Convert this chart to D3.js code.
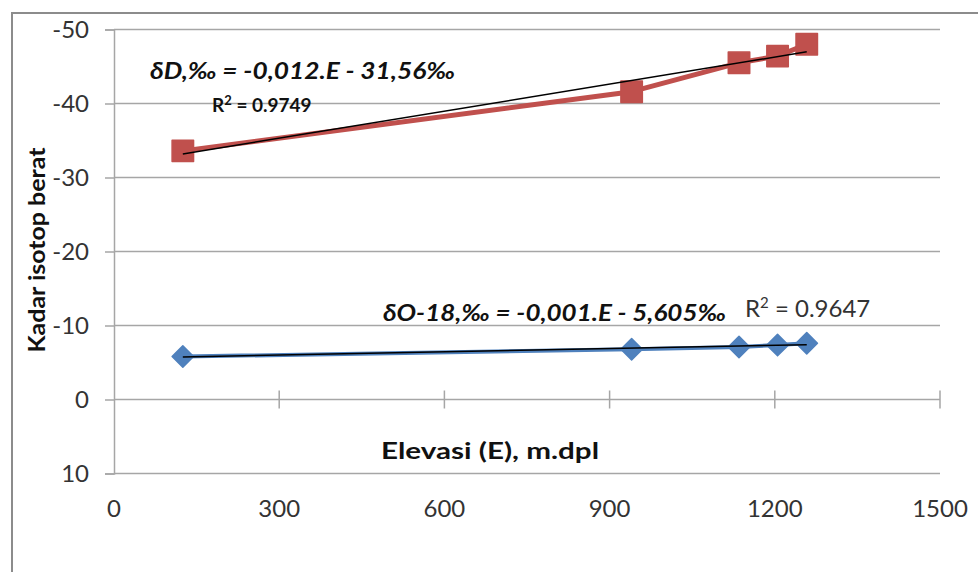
<!DOCTYPE html>
<html>
<head>
<meta charset="utf-8">
<script src="https://cdn.jsdelivr.net/npm/d3@7"></script>
<style>
  body { margin: 0; background: #fff; }
  svg { display: block; font-family: Lato, "Open Sans", sans-serif; }
</style>
</head>
<body>
<script>
// elevation of each sampling point (m.dpl)
const elevation = [125, 940, 1135, 1205, 1258];
// heavy isotope contents (per mil)
const deltaD = [-33.6, -41.6, -45.5, -46.4, -48.0];
const delta18O = [-5.8, -6.8, -7.1, -7.35, -7.6];

const xTicks = [0, 300, 600, 900, 1200, 1500];
const yTicks = [-50, -40, -30, -20, -10, 0, 10];

const width = 978;
const height = 572;

const svg = d3.select('body')
  .append('svg')
    .attr('width', width)
    .attr('height', height);

// outer chart frame (cropped on right and bottom)
svg.append('path')
  .attr('d', `M12,${height}V13H${width}`)
  .attr('fill', 'none')
  .attr('stroke', '#8c8c8c')
  .attr('stroke-width', 2);

const x = d3.scaleLinear().domain([0, 1500]).range([114, 940]);
const y = d3.scaleLinear().domain([-50, 10]).range([29.5, 473.5]);

// horizontal gridlines
svg.append('g')
  .selectAll('line')
  .data(yTicks)
  .enter()
    .append('line')
      .attr('x1', x(0))
      .attr('x2', x(1500))
      .attr('y1', d => y(d))
      .attr('y2', d => y(d))
      .attr('stroke', '#a6a6a6')
      .attr('stroke-width', 1.5);

// y axis
const yAxis = svg.append('g')
  .attr('transform', `translate(${x(0)},0)`)
  .call(d3.axisLeft(y).tickValues(yTicks).tickFormat(d => String(d)).tickSize(9).tickPadding(16));
yAxis.select('.domain').attr('stroke', '#a6a6a6').attr('stroke-width', 1.5);
yAxis.selectAll('.tick line').attr('stroke', '#a6a6a6').attr('stroke-width', 1.5);
yAxis.selectAll('.tick text')
  .attr('font-size', 24)
  .attr('fill', '#333')
  .attr('font-family', 'Lato, sans-serif');

// x axis line at 0 with cross ticks
svg.append('g')
  .selectAll('line')
  .data(xTicks.slice(1))
  .enter()
    .append('line')
      .attr('x1', d => x(d))
      .attr('x2', d => x(d))
      .attr('y1', y(0) - 9)
      .attr('y2', y(0) + 9)
      .attr('stroke', '#a6a6a6')
      .attr('stroke-width', 1.5);

// x tick labels sit below the plot
svg.append('g')
  .selectAll('text')
  .data(xTicks)
  .enter()
    .append('text')
      .attr('x', d => x(d))
      .attr('y', 517)
      .attr('text-anchor', 'middle')
      .attr('font-size', 24)
      .attr('fill', '#333')
      .text(d => d);

// axis titles
svg.append('text')
  .attr('x', 490)
  .attr('y', 459)
  .attr('text-anchor', 'middle')
  .attr('font-size', 22)
  .attr('font-weight', 'bold')
  .attr('fill', '#111')
  .attr('textLength', 218)
  .attr('lengthAdjust', 'spacingAndGlyphs')
  .text('Elevasi (E), m.dpl');

svg.append('text')
  .attr('transform', 'translate(45,250) rotate(-90)')
  .attr('text-anchor', 'middle')
  .attr('font-size', 22)
  .attr('font-weight', 'bold')
  .attr('fill', '#111')
  .attr('textLength', 205)
  .attr('lengthAdjust', 'spacingAndGlyphs')
  .text('Kadar isotop berat');

// least squares fit used for the trendlines
function fit(xs, ys) {
  const mx = d3.mean(xs);
  const my = d3.mean(ys);
  let sxy = 0;
  let sxx = 0;
  xs.forEach((v, i) => {
    sxy += (v - mx) * (ys[i] - my);
    sxx += (v - mx) * (v - mx);
  });
  const b = sxy / sxx;
  return v => my + b * (v - mx);
}

const series = [
  { values: deltaD, color: '#c0504d', lw: 5, rot: 0, size: 460 },
  { values: delta18O, color: '#4f81bd', lw: 4, rot: 45, size: 230 }
];

const line = d3.line()
  .x(d => x(d[0]))
  .y(d => y(d[1]));

series.forEach(s => {
  const pts = elevation.map((e, i) => [e, s.values[i]]);

  svg.append('path')
    .datum(pts)
    .attr('d', line)
    .attr('fill', 'none')
    .attr('stroke', s.color)
    .attr('stroke-width', s.lw)
    .attr('stroke-linejoin', 'round');

  svg.append('g')
    .selectAll('path')
    .data(pts)
    .enter()
      .append('path')
        .attr('transform', d => `translate(${x(d[0])},${y(d[1])}) rotate(${s.rot})`)
        .attr('d', d3.symbol().type(d3.symbolSquare).size(s.size))
        .attr('fill', s.color)
        .attr('stroke', s.color)
        .attr('stroke-width', 1.5)
        .attr('stroke-linejoin', 'round');
});

// trendlines drawn over the markers
series.forEach(s => {
  const f = fit(elevation, s.values);
  const ends = d3.extent(elevation);
  svg.append('path')
    .datum(ends.map(e => [e, f(e)]))
    .attr('d', line)
    .attr('stroke', '#000')
    .attr('stroke-width', 1.5);
});

// trendline labels
svg.append('text')
  .attr('x', 150)
  .attr('y', 79)
  .attr('font-size', 22)
  .attr('font-weight', 'bold')
  .attr('font-style', 'italic')
  .attr('fill', '#111')
  .attr('textLength', 305)
  .attr('lengthAdjust', 'spacingAndGlyphs')
  .text('δD,‰ = -0,012.E - 31,56‰');

const r1 = svg.append('text')
  .attr('x', 212)
  .attr('y', 112)
  .attr('font-size', 19)
  .attr('font-weight', 'bold')
  .attr('fill', '#111');
r1.append('tspan').text('R');
r1.append('tspan').attr('dy', -7).attr('font-size', 13).text('2');
r1.append('tspan').attr('dy', 7).text(' = 0.9749');

svg.append('text')
  .attr('x', 383)
  .attr('y', 321)
  .attr('font-size', 22)
  .attr('font-weight', 'bold')
  .attr('font-style', 'italic')
  .attr('fill', '#111')
  .attr('textLength', 343)
  .attr('lengthAdjust', 'spacingAndGlyphs')
  .text('δO-18,‰ = -0,001.E - 5,605‰');

const r2 = svg.append('text')
  .attr('x', 745)
  .attr('y', 317)
  .attr('font-size', 24)
  .attr('fill', '#333');
r2.append('tspan').text('R');
r2.append('tspan').attr('dy', -9).attr('font-size', 15).text('2');
r2.append('tspan').attr('dy', 9).text(' = 0.9647');
</script>
</body>
</html>
